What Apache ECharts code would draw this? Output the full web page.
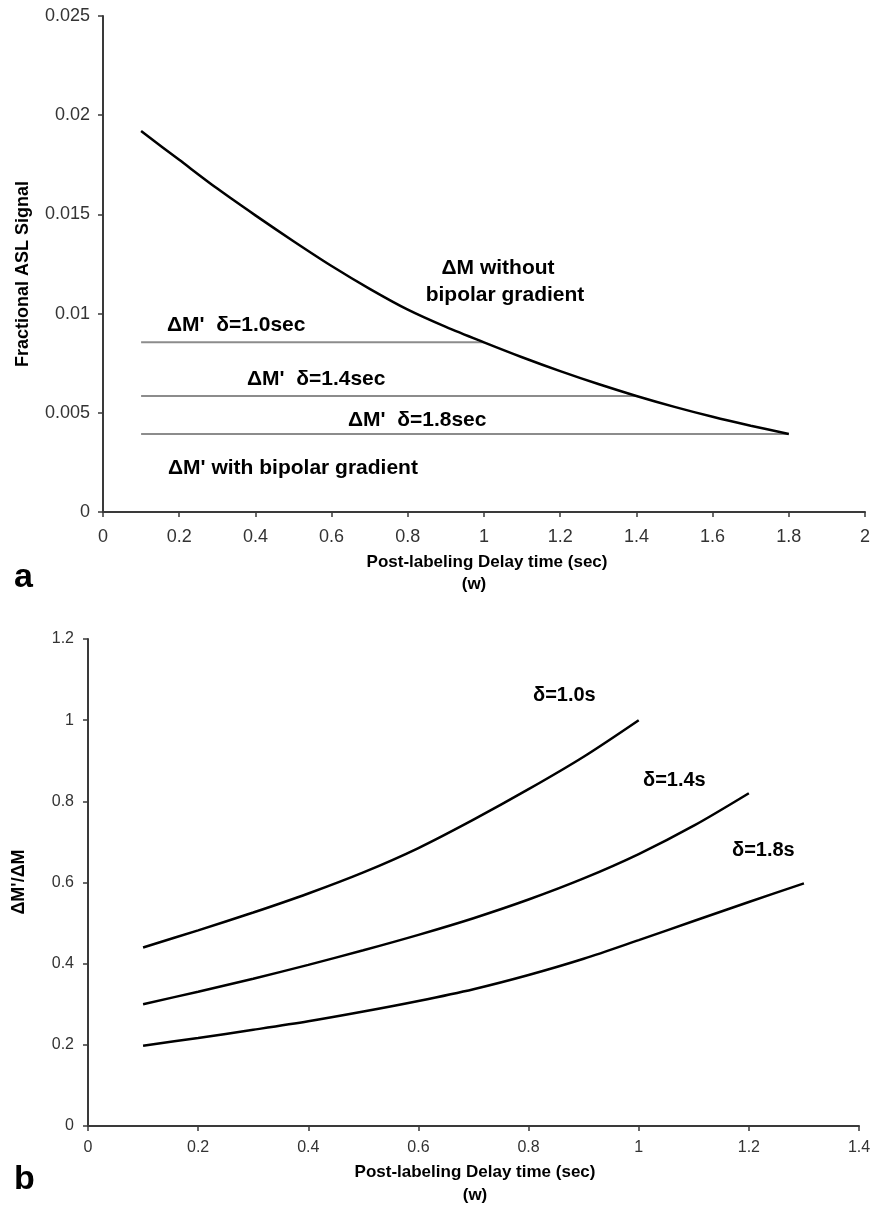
<!DOCTYPE html>
<html>
<head>
<meta charset="utf-8">
<script src="https://cdn.jsdelivr.net/npm/echarts@6/dist/echarts.min.js"></script>
<style>
  html, body { margin: 0; padding: 0; background: #fff; }
  #chart { width: 880px; height: 1207px; }
</style>
</head>
<body>
<div id="chart"></div>
<script>
// panel a: signal vs delay
const delayA = [0.1, 0.2, 0.3, 0.4, 0.5, 0.6, 0.7, 0.8, 0.9, 1.0, 1.1, 1.2, 1.3, 1.4, 1.5, 1.6, 1.7, 1.8];
const signalNoBipolar = [0.0192, 0.01775, 0.0163, 0.01495, 0.01365, 0.0124, 0.01125, 0.0102, 0.00933, 0.00855,
    0.0078, 0.0071, 0.00645, 0.00585, 0.0053, 0.0048, 0.00435, 0.00393];
const plateauDelta = [1.0, 1.4, 1.8];
const plateauLevel = [0.00855, 0.00585, 0.00393];
const plateauStart = 0.1;

// panel b: ratio dM'/dM
const delayB = [0.1, 0.2, 0.3, 0.4, 0.5, 0.6, 0.7, 0.8, 0.9, 1.0, 1.1, 1.2, 1.3];
const ratio10 = [0.44, 0.482, 0.526, 0.573, 0.625, 0.685, 0.755, 0.83, 0.91, 1.0];
const ratio14 = [0.30, 0.331, 0.363, 0.397, 0.433, 0.471, 0.512, 0.558, 0.61, 0.67, 0.74, 0.82];
const ratio18 = [0.198, 0.217, 0.237, 0.258, 0.282, 0.308, 0.337, 0.372, 0.412, 0.458, 0.505, 0.552, 0.598];

const FONT = "'Liberation Sans', Arial, sans-serif";

function pairs(xs, ys) {
    return ys.map((y, i) => [xs[i], y]);
}

function axisStyle(size, margin) {
    return {
        axisLine: { show: true, onZero: false, lineStyle: { color: '#3a3a3a', width: 2 } },
        axisTick: { show: true, length: 5, lineStyle: { color: '#3a3a3a', width: 1.5 } },
        splitLine: { show: false },
        axisLabel: { color: '#333', fontSize: size, fontFamily: FONT, margin: margin }
    };
}

// bold text placed on the page; align defaults to left
function txt(x, y, text, size, align, rotation) {
    return {
        type: 'text',
        x: x,
        y: y,
        rotation: rotation || 0,
        style: {
            text: text,
            fontSize: size,
            fontWeight: 'bold',
            fontFamily: FONT,
            fill: '#000',
            align: align || 'left',
            verticalAlign: 'middle'
        }
    };
}

const curveStyle = { color: '#000', width: 2.5 };
const plateauStyle = { color: '#8c8c8c', width: 2 };

const series = [
    {
        type: 'line', xAxisIndex: 0, yAxisIndex: 0, showSymbol: false, smooth: 0.3,
        data: pairs(delayA, signalNoBipolar), lineStyle: curveStyle, z: 3
    }
];
plateauDelta.forEach((d, i) => {
    series.push({
        type: 'line', xAxisIndex: 0, yAxisIndex: 0, showSymbol: false,
        data: [[plateauStart, plateauLevel[i]], [d, plateauLevel[i]]],
        lineStyle: plateauStyle, z: 2
    });
});
[ratio10, ratio14, ratio18].forEach(r => {
    series.push({
        type: 'line', xAxisIndex: 1, yAxisIndex: 1, showSymbol: false, smooth: 0.3,
        data: pairs(delayB, r), lineStyle: curveStyle
    });
});

const chart = echarts.init(document.getElementById('chart'));
chart.setOption({
    backgroundColor: '#fff',
    animation: false,
    grid: [
        { left: 103, right: 15, top: 16, height: 496 },
        { left: 88, right: 21, top: 639, height: 487 }
    ],
    xAxis: [
        Object.assign({ type: 'value', gridIndex: 0, min: 0, max: 2, interval: 0.2 }, axisStyle(18, 16)),
        Object.assign({ type: 'value', gridIndex: 1, min: 0, max: 1.4, interval: 0.2 }, axisStyle(16, 14))
    ],
    yAxis: [
        Object.assign({ type: 'value', gridIndex: 0, min: 0, max: 0.025, interval: 0.005 }, axisStyle(18, 13)),
        Object.assign({ type: 'value', gridIndex: 1, min: 0, max: 1.2, interval: 0.2 }, axisStyle(16, 14))
    ],
    series: series,
    graphic: [
        // panel a
        txt(498, 268, 'ΔM without', 21, 'center'),
        txt(505, 295, 'bipolar gradient', 21, 'center'),
        txt(167, 325, "ΔM'  δ=1.0sec", 21),
        txt(247, 379, "ΔM'  δ=1.4sec", 21),
        txt(348, 420, "ΔM'  δ=1.8sec", 21),
        txt(168, 468, "ΔM' with bipolar gradient", 21),
        txt(487, 562, 'Post-labeling Delay time (sec)', 17, 'center'),
        txt(474, 584, '(w)', 17, 'center'),
        txt(23, 274, 'Fractional ASL Signal', 18, 'center', Math.PI / 2),
        txt(14, 578, 'a', 34),
        // panel b
        txt(533, 695, 'δ=1.0s', 20),
        txt(643, 780, 'δ=1.4s', 20),
        txt(732, 850, 'δ=1.8s', 20),
        txt(475, 1172, 'Post-labeling Delay time (sec)', 17, 'center'),
        txt(475, 1195, '(w)', 17, 'center'),
        txt(19, 882, "ΔM'/ΔM", 18, 'center', Math.PI / 2),
        txt(14, 1180, 'b', 34)
    ]
});
</script>
</body>
</html>
